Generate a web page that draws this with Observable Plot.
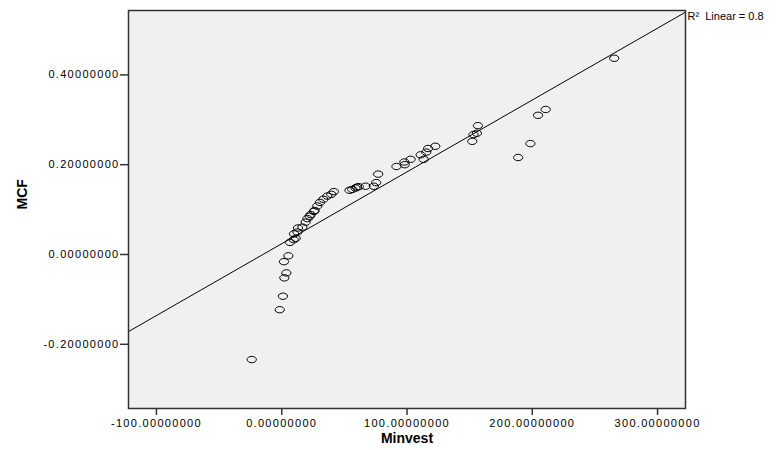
<!DOCTYPE html>
<html><head><meta charset="utf-8">
<script src="https://cdn.jsdelivr.net/npm/d3@7"></script>
<script src="https://cdn.jsdelivr.net/npm/@observablehq/plot@0.6"></script>
<style>
body{margin:0;background:#fff;}
#chart svg{display:block;}
g[aria-label="x-axis tick label"] text, g[aria-label="y-axis tick label"] text{letter-spacing:1.3px;}
g[aria-label="r2"] text{letter-spacing:0.9px;}
</style>
</head><body><div id="chart"></div>
<script>
// Data
const minvest = [-23.9, -1.6, 1.0, 2.1, 3.7, 1.8, 5.3, 6.6, 9.6, 11.1, 9.8, 12.5, 13.0, 16.5, 19.1, 20.5, 22.3, 23.1, 25.7, 26.3, 28.4, 30.5, 33.2, 36.4, 39.6, 41.6, 54.1, 56.3, 58.9, 60.1, 61.5, 66.9, 73.5, 75.4, 77.0, 91.6, 97.9, 98.2, 102.9, 110.9, 113.3, 115.4, 116.8, 122.6, 152.1, 153.1, 155.8, 156.6, 188.7, 198.5, 204.6, 210.7, 265.4];
const mcf = [-0.234, -0.123, -0.093, -0.052, -0.041, -0.016, -0.003, 0.027, 0.033, 0.036, 0.046, 0.050, 0.059, 0.061, 0.072, 0.080, 0.085, 0.089, 0.096, 0.098, 0.108, 0.116, 0.123, 0.130, 0.134, 0.140, 0.143, 0.145, 0.148, 0.150, 0.151, 0.152, 0.152, 0.160, 0.179, 0.196, 0.206, 0.200, 0.212, 0.222, 0.212, 0.228, 0.236, 0.241, 0.252, 0.267, 0.270, 0.287, 0.216, 0.247, 0.310, 0.323, 0.437];
const xTicks = [-100, 0, 100, 200, 300];
const yTicks = [-0.2, 0, 0.2, 0.4];
const xDomain = [-122.3, 322.3];
const yDomain = [-0.343, 0.5434];
const fitIntercept = 0.024;
const fitSlope = 0.0016;
const r2Label = "R\u00B2  Linear = 0.8";
const xLabel = "Minvest";
const yLabel = "MCF";

const points = minvest.map((x, i) => ({x, y: mcf[i]}));
const fitLine = xDomain.map(x => ({x, y: fitIntercept + fitSlope * x}));

const ellipse = {
  draw(ctx) {
    const rx = 4.6, ry = 3.2, k = 0.5523;
    ctx.moveTo(rx, 0);
    ctx.bezierCurveTo(rx, ry * k, rx * k, ry, 0, ry);
    ctx.bezierCurveTo(-rx * k, ry, -rx, ry * k, -rx, 0);
    ctx.bezierCurveTo(-rx, -ry * k, -rx * k, -ry, 0, -ry);
    ctx.bezierCurveTo(rx * k, -ry, rx, -ry * k, rx, 0);
    ctx.closePath();
  }
};

const chart = Plot.plot({
  width: 779,
  height: 450,
  marginLeft: 128,
  marginRight: 94,
  marginTop: 10,
  marginBottom: 42,
  style: {fontFamily: "'Liberation Sans', Arial, sans-serif", fontSize: "11px", background: "white", color: "black"},
  x: {domain: xDomain},
  y: {domain: yDomain},
  marks: [
    Plot.frame({fill: "#f0f0f0"}),
    Plot.line(fitLine, {x: "x", y: "y", stroke: "black", strokeWidth: 1}),
    Plot.dot(points, {x: "x", y: "y", symbol: ellipse, stroke: "black", fill: "none", strokeWidth: 1}),
    Plot.frame({stroke: "#333", strokeWidth: 1.5}),
    Plot.axisX({ticks: xTicks, tickFormat: d => d.toFixed(8), tickSize: 7, tickPadding: 4, stroke: "#333", strokeWidth: 1.5, label: null, fontSize: 11, fill: "black"}),
    Plot.axisY({ticks: yTicks, tickFormat: d => d.toFixed(8), tickSize: 8, tickPadding: 1, stroke: "#333", strokeWidth: 1.5, label: null, fontSize: 11, fill: "black"}),
    Plot.text([xLabel], {text: d => d, frameAnchor: "bottom", dy: 34, fontWeight: "bold", fontSize: 14, fill: "black"}),
    Plot.text([yLabel], {text: d => d, frameAnchor: "left", dx: -106, rotate: -90, fontWeight: "bold", fontSize: 14, fill: "black"}),
    Plot.text([r2Label], {text: d => d, x: () => xDomain[1], y: () => fitIntercept + fitSlope * xDomain[1], textAnchor: "start", dx: 2, dy: 4, fontSize: 11, fill: "black", ariaLabel: "r2", clip: false})
  ]
});
document.getElementById("chart").appendChild(chart);
</script>
</body></html>
